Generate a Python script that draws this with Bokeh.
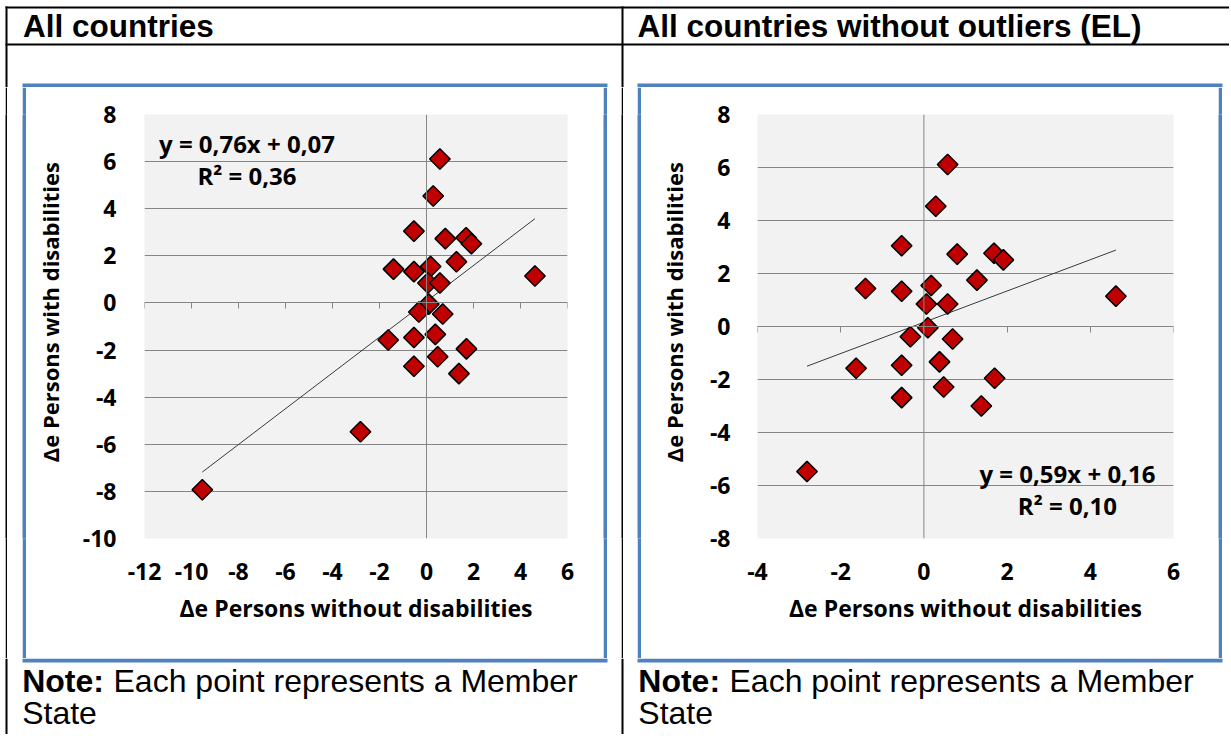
import numpy as np
from bokeh.plotting import figure
from bokeh.models import Range1d, LinearAxis, FixedTicker, Span, Label
from bokeh.layouts import row, column
from bokeh.embed import file_html
from bokeh.resources import INLINE
from bokeh.core.properties import value

# ---------------- data (change in employment rate, pp, per Member State) ----------------
dx_without = [0.57, 0.285, -0.535, 0.80, 1.685, 1.91, 1.275, -1.405, -0.535, 0.175, 0.06, 0.57,
              4.615, 0.095, -0.325, 0.69, -1.63, -0.535, 0.375, 1.70, 0.475, -0.535, 1.38, -2.81]
dy_with = [6.11, 4.54, 3.05, 2.73, 2.765, 2.515, 1.75, 1.435, 1.33, 1.545, 0.85, 0.85,
           1.145, -0.05, -0.385, -0.47, -1.575, -1.465, -1.335, -1.95, -2.285, -2.685, -3.00, -5.47]
outlier_x = [-9.54]   # EL
outlier_y = [-7.93]

fit_all = (0.76, 0.07)
fit_no_el = (0.59, 0.16)
eq_all = ["y = 0,76x + 0,07", "R² = 0,36"]
eq_no_el = ["y = 0,59x + 0,16", "R² = 0,10"]

x_ticks_all = [-12, -10, -8, -6, -4, -2, 0, 2, 4, 6]
y_ticks_all = [-10, -8, -6, -4, -2, 0, 2, 4, 6, 8]
x_ticks_no = [-4, -2, 0, 2, 4, 6]
y_ticks_no = [-8, -6, -4, -2, 0, 2, 4, 6, 8]

headers = ["All countries", "All countries without outliers (EL)"]
x_title = "Δe Persons without disabilities"
y_title = "Δe Persons with disabilities"
note_bold = "Note:"
note_line1 = "Each point represents a Member"
note_line2 = "State"

# ---------------- styling / page geometry ----------------
CH_FONT = "Open Sans"
DOC_FONT = "Liberation Sans"
CH_SIZE = "23px"
EQ_SIZE = "24px"
YT_SIZE = "22px"
YT_PAD = "\u00a0" * 5   # nudges the vertical title slightly upwards
W_TOT, H_TOT = 1229, 734
TOP_H = 87             # strip above the charts
CH_W, CH_H = 577, 571  # chart canvases (inside the blue frames)
BOT_H = H_TOT - TOP_H - CH_H
BLUE = "#4f81bd"
GRID = "#868686"
TXT_SHIFT = 11.3       # baseline correction for text glyphs


def strip(w, h):
    p = figure(width=w, height=h, x_range=Range1d(0, w), y_range=Range1d(h, 0),
               x_axis_location=None, y_axis_location=None, toolbar_location=None,
               output_backend="svg", min_border=0, outline_line_color=None,
               background_fill_color="white", border_fill_color="white")
    p.grid.visible = False
    return p


def solid(w, color):
    p = figure(width=w, height=CH_H, x_axis_location=None, y_axis_location=None,
               toolbar_location=None, output_backend="svg", min_border=0,
               outline_line_color=None, background_fill_color=color, border_fill_color=color)
    p.grid.visible = False
    return p


def bands(p, oy, rects, color):
    p.quad(left=[r[0] for r in rects], right=[r[2] for r in rects],
           top=[r[1] - oy for r in rects], bottom=[r[3] - oy for r in rects],
           fill_color=color, line_color=None)


def texts(p, oy, xs, ys, strs, style, size):
    p.text(x=xs, y=[y - oy - TXT_SHIFT for y in ys], text=strs,
           text_font=value(DOC_FONT), text_font_style=style, text_font_size=size,
           text_align="left", text_baseline="alphabetic", text_color="black")


def chart(bl, br, xr, yr, xt, yt, xs, ys, fit, eq, eq_pos, y_standoff, yt_standoff):
    p = figure(width=CH_W, height=CH_H, x_range=Range1d(*xr), y_range=Range1d(*yr),
               output_backend="svg", toolbar_location=None,
               min_border_left=bl, min_border_right=br, min_border_top=27, min_border_bottom=120,
               background_fill_color="#f2f2f2", border_fill_color="white",
               outline_line_color=None)
    p.xaxis.ticker = FixedTicker(ticks=xt)
    p.yaxis.ticker = FixedTicker(ticks=yt)
    p.xaxis.major_label_overrides = {t: str(t) for t in xt}
    p.yaxis.major_label_overrides = {t: str(t) for t in yt}
    for ax in (p.xaxis[0], p.yaxis[0]):
        ax.axis_line_color = None
        ax.major_tick_line_color = None
        ax.minor_tick_line_color = None
        ax.major_label_text_font = CH_FONT
        ax.major_label_text_font_style = "bold"
        ax.major_label_text_font_size = CH_SIZE
        ax.major_label_text_color = "black"
        ax.axis_label_text_font = CH_FONT
        ax.axis_label_text_font_style = "bold"
        ax.axis_label_text_color = "black"
    p.xaxis.axis_label = x_title
    p.yaxis.axis_label = YT_PAD + y_title
    p.xaxis.axis_label_text_font_size = CH_SIZE
    p.yaxis.axis_label_text_font_size = YT_SIZE
    p.xaxis.major_label_standoff = 18
    p.xaxis.axis_label_standoff = 9
    p.yaxis.major_label_standoff = y_standoff
    p.yaxis.axis_label_standoff = yt_standoff
    p.xgrid.visible = False
    p.ygrid.ticker = FixedTicker(ticks=yt)
    p.ygrid.grid_line_color = GRID
    p.ygrid.grid_line_width = 1

    # horizontal axis crossing at y = 0, with its tick marks
    zero_ax = LinearAxis(fixed_location=0, ticker=FixedTicker(ticks=xt),
                         axis_line_color=GRID, major_tick_line_color=GRID,
                         major_tick_in=0, major_tick_out=6, minor_tick_line_color=None,
                         major_label_overrides={t: "" for t in xt},
                         major_label_text_font_size="1px", major_label_standoff=0)
    p.add_layout(zero_ax, "below")
    p.add_layout(Span(location=0, dimension="height", line_color=GRID, line_width=1))

    # linear trend line
    lo, hi = min(xs), max(xs)
    p.line([lo, hi], [fit[0] * lo + fit[1], fit[0] * hi + fit[1]], line_color="#3a3a3a", line_width=1)

    # member states
    p.scatter(xs, ys, marker="square", angle=np.pi / 4, size=14.5,
              fill_color="#c00000", line_color="black", line_width=1.5)

    for txt, (ex, ey) in zip(eq, eq_pos):
        p.add_layout(Label(x=ex, y=ey, text=txt, text_align="center", text_baseline="middle",
                           text_font=CH_FONT, text_font_style="bold", text_font_size=EQ_SIZE,
                           text_color="black"))
    return p


xs_all = dx_without + outlier_x
ys_all = dy_with + outlier_y

c1 = chart(118, 36, (-12, 6), (-10, 8), x_ticks_all, y_ticks_all, xs_all, ys_all,
           fit_all, eq_all, [(-7.64, 6.75), (-7.64, 5.41)], 22, 15)
c2 = chart(116, 45, (-4, 6), (-8, 8), x_ticks_no, y_ticks_no, dx_without, dy_with,
           fit_no_el, eq_no_el, [(3.45, -5.55), (3.45, -6.75)], 21, 18)

# ---- top strip: table borders, header row, top of the blue frames ----
top = strip(W_TOT, TOP_H)
bands(top, 0, [(5, 6, W_TOT, 8), (5, 43, W_TOT, 45), (5, 6, 7, TOP_H), (621, 6, 623, TOP_H)], "black")
bands(top, 0, [(22, 83, 607, TOP_H), (637, 83, 1222, TOP_H)], BLUE)
texts(top, 0, [22.5, 637], [36.7, 36.7], headers, "bold", "31.5px")

# ---- middle row: table borders and blue frame sides around the two charts ----
middle = row(solid(5, "white"), solid(2, "black"), solid(15, "white"), solid(4, BLUE),
             c1,
             solid(4, BLUE), solid(14, "white"), solid(2, "black"), solid(14, "white"), solid(4, BLUE),
             c2,
             solid(4, BLUE), solid(7, "white"))

# ---- bottom strip: bottom of the blue frames, notes ----
by = TOP_H + CH_H
bot = strip(W_TOT, BOT_H)
bands(bot, by, [(5, by, 7, H_TOT), (621, by, 623, H_TOT)], "black")
bands(bot, by, [(22, by, 607, by + 4), (637, by, 1222, by + 4)], BLUE)
texts(bot, by, [21.7, 637.8], [691.7, 691.7], [note_bold, note_bold], "bold", "32px")
texts(bot, by, [113, 729], [691.7, 691.7], [note_line1, note_line1], "normal", "32px")
texts(bot, by, [21.7, 637.8], [724, 724], [note_line2, note_line2], "normal", "32px")

layout = column(top, middle, bot)
open("out.html", "w").write(file_html(layout, INLINE))
